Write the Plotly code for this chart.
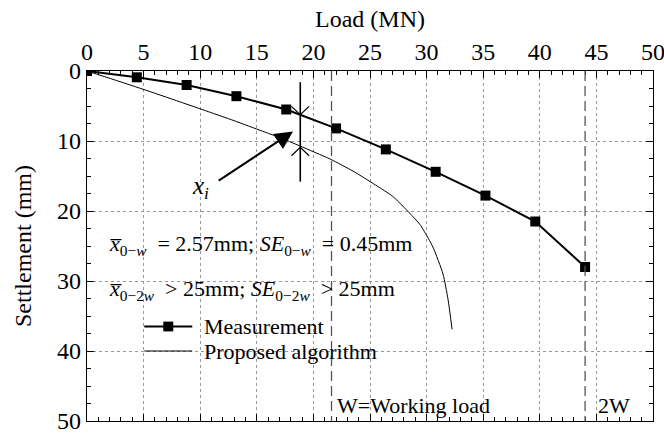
import plotly.graph_objects as go

# ---- data ----
load_meas = [0, 4.4, 8.8, 13.2, 17.6, 22.0, 26.4, 30.8, 35.2, 39.6, 44.0]
settle_meas = [0, 0.9, 2.0, 3.6, 5.5, 8.2, 11.2, 14.4, 17.8, 21.5, 28.0]

load_prop = [0, 2.4, 4.85, 8.2, 10.7, 13.0, 15.5, 17.0, 18.8, 21.5, 23.5, 25.5, 27.0, 28.5, 29.4, 30.15, 30.6, 31.45, 31.9, 32.25]
settle_prop = [0, 1.25, 2.55, 4.4, 5.8, 7.1, 8.6, 9.5, 10.7, 12.6, 14.3, 16.3, 17.9, 20.3, 21.9, 23.9, 25.3, 29.0, 32.7, 36.9]

W_load = 21.6
W2_load = 44.0
xi_load = 18.84
xi_top, xi_bot = 1.6, 15.8
xi_upper, xi_lower = 6.25, 10.9
arrow_tail = (11.5, 15.8)
arrow_tip = (18.2, 8.65)

legend_names = ["Measurement", "Proposed algorithm"]
legend_rows = [36.5, 40.0]          # settlement-axis positions of the legend rows
legend_x0, legend_x1, legend_tx = 5.06, 9.3, 10.2

FONT = "Liberation Serif"
fs_axis = 24
fs_txt = 22

fig = go.Figure()

fig.add_trace(go.Scatter(x=load_meas, y=settle_meas, mode="lines+markers", name=legend_names[0],
                         line=dict(color="black", width=2),
                         marker=dict(symbol="square", size=10, color="black"),
                         showlegend=False))
fig.add_trace(go.Scatter(x=load_prop, y=settle_prop, mode="lines", name=legend_names[1],
                         line=dict(color="black", width=1, shape="spline", smoothing=0.6),
                         showlegend=False))

shapes = []
for xv in (W_load, W2_load):
    shapes.append(dict(type="line", xref="x", yref="y", x0=xv, x1=xv, y0=0, y1=50,
                       line=dict(color="#555", width=1.3, dash="10px,5px")))
# x_i vertical line
shapes.append(dict(type="line", xref="x", yref="y", x0=xi_load, x1=xi_load, y0=xi_top, y1=xi_bot,
                   line=dict(color="black", width=1.6)))
# open chevrons at the two crossings
dx, dy = 0.78, 1.2
shapes.append(dict(type="path", xref="x", yref="y",
                   path=f"M{xi_load-dx},{xi_upper-dy} L{xi_load},{xi_upper} L{xi_load+dx},{xi_upper-dy}",
                   line=dict(color="black", width=1.2)))
shapes.append(dict(type="path", xref="x", yref="y",
                   path=f"M{xi_load-dx},{xi_lower+dy} L{xi_load},{xi_lower} L{xi_load+dx},{xi_lower+dy}",
                   line=dict(color="black", width=1.2)))
# manual legend samples
for i, yy in enumerate(legend_rows):
    shapes.append(dict(type="line", xref="x", yref="y", x0=legend_x0, x1=legend_x1, y0=yy, y1=yy,
                       line=dict(color="black", width=2 if i == 0 else 1)))
xm = (legend_x0 + legend_x1) / 2
shapes.append(dict(type="rect", xref="x", yref="y", x0=xm - 0.44, x1=xm + 0.44,
                   y0=legend_rows[0] - 0.7, y1=legend_rows[0] + 0.7,
                   fillcolor="black", line=dict(color="black", width=0)))

ann = []
ann.append(dict(x=arrow_tip[0], y=arrow_tip[1], ax=arrow_tail[0], ay=arrow_tail[1],
                xref="x", yref="y", axref="x", ayref="y", text="", showarrow=True,
                arrowhead=2, arrowsize=1.8, arrowwidth=2, arrowcolor="black"))
ann.append(dict(x=10.0, y=16.6, xref="x", yref="y", text="<i>x<sub>i</sub></i>", showarrow=False,
                font=dict(family=FONT, size=25, color="black")))
ann.append(dict(x=1.8, y=24.9, xref="x", yref="y", xanchor="left",
                text="<i>x\u0305</i><sub>0\u2212<i>w</i></sub>  = 2.57mm; <i>SE</i><sub>0\u2212<i>w</i></sub>  = 0.45mm",
                showarrow=False, font=dict(family=FONT, size=fs_txt, color="black")))
ann.append(dict(x=1.8, y=31.3, xref="x", yref="y", xanchor="left",
                text="<i>x\u0305</i><sub>0\u22122<i>w</i></sub>  > 25mm; <i>SE</i><sub>0\u22122<i>w</i></sub>  > 25mm",
                showarrow=False, font=dict(family=FONT, size=fs_txt, color="black")))
for name, yy in zip(legend_names, legend_rows):
    ann.append(dict(x=legend_tx, y=yy, xref="x", yref="y", xanchor="left", text=name,
                    showarrow=False, font=dict(family=FONT, size=fs_txt, color="black")))
ann.append(dict(x=W_load + 0.35, y=47.8, xref="x", yref="y", xanchor="left", text="W=Working load",
                showarrow=False, font=dict(family=FONT, size=fs_txt, color="black")))
ann.append(dict(x=W2_load + 1.0, y=47.8, xref="x", yref="y", xanchor="left", text="2W",
                showarrow=False, font=dict(family=FONT, size=fs_txt, color="black")))

axis_common = dict(showline=True, linecolor="black", linewidth=1.2, mirror="ticks",
                   ticks="inside", ticklen=7, tickcolor="black",
                   showgrid=True, gridcolor="#999", griddash="dot", gridwidth=1,
                   zeroline=False, ticklabeloverflow="allow", automargin=False,
                   tickfont=dict(family=FONT, size=fs_axis, color="black"))

fig.update_layout(
    width=664, height=436,
    margin=dict(l=87, r=11, t=71, b=15),
    paper_bgcolor="white", plot_bgcolor="white",
    font=dict(family=FONT, size=fs_axis, color="black"),
    showlegend=False,
    shapes=shapes, annotations=ann,
    xaxis=dict(side="top", range=[0, 50], dtick=5, tick0=0,
               title=dict(text="Load (MN)", font=dict(family=FONT, size=fs_axis), standoff=4),
               minor=dict(dtick=1, ticklen=4, ticks="inside", tickcolor="black", showgrid=False),
               **axis_common),
    yaxis=dict(range=[50, 0], dtick=10, tick0=0,
               title=dict(text="Settlement (mm)", font=dict(family=FONT, size=fs_axis), standoff=18),
               minor=dict(dtick=2.5, ticklen=4, ticks="inside", tickcolor="black", showgrid=False),
               **axis_common),
)

fig.write_html("out.html")
